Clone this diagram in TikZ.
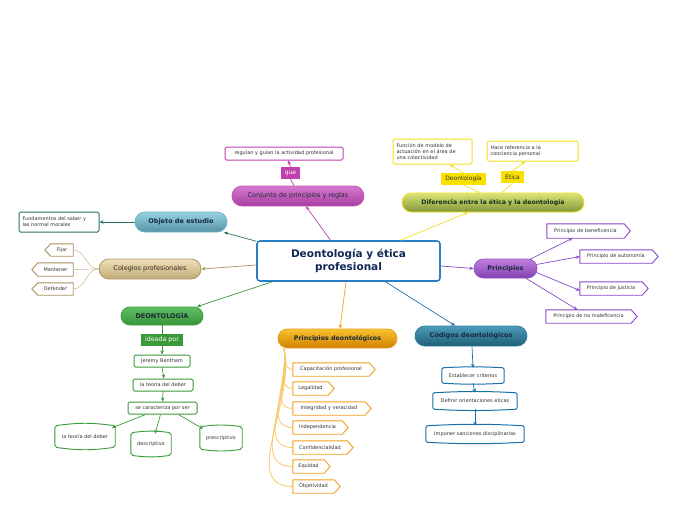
\documentclass[tikz,border=0pt]{standalone}
\usepackage{fontspec}
\setmainfont{DejaVu Sans}
\usetikzlibrary{shapes.misc,arrows.meta}
\definecolor{txtdark}{HTML}{1A2A3A}
\definecolor{txtgray}{HTML}{333333}
\definecolor{cblue}{HTML}{2880C8}
\definecolor{cmag}{HTML}{C040B0}
\definecolor{cyel}{HTML}{F0E020}
\definecolor{cteal}{HTML}{2A7068}
\definecolor{ctan}{HTML}{A89060}
\definecolor{ctanl}{HTML}{D0C098}
\definecolor{cgreen}{HTML}{3A9A3A}
\definecolor{cpur}{HTML}{8848C8}
\definecolor{corg}{HTML}{F0A020}
\definecolor{corgl}{HTML}{F8C868}
\definecolor{ccod}{HTML}{1A70A8}
\begin{document}
\begin{tikzpicture}[x=1pt,y=-1pt,
  pill/.style={rounded rectangle, inner sep=0pt, line width=0.8pt, font=\fontsize{6.5}{7.5}\selectfont, text=txtdark},
  small/.style={font=\fontsize{5}{6}\selectfont, text=txtgray},
  box/.style={small, rectangle, rounded corners=1.5pt, draw, line width=1pt, fill=white, inner sep=0pt, align=left},
  lab/.style={rectangle, inner sep=0pt, font=\fontsize{6}{7}\selectfont},
  pent/.style={small, rectangle, inner sep=0pt},
  arr/.style={-{Stealth[length=4pt,width=3.5pt]}, line width=0.7pt},
  ln/.style={line width=0.7pt}]
\useasboundingbox (0,0) rectangle (696,520);
% central
\node[rectangle, rounded corners=3pt, draw=cblue, line width=1.6pt, fill=white, minimum width=183, minimum height=40, inner sep=0pt, align=center, text={rgb,255:red,16;green,40;blue,84}, font=\fontsize{10.5}{12.5}\selectfont\bfseries] (c) at (348.5,261) {Deontología y ética\\profesional};
% magenta branch
\node[pill, minimum width=132, minimum height=20, top color={rgb,255:red,214;green,120;blue,206}, bottom color={rgb,255:red,168;green,62;blue,160}, draw={rgb,255:red,190;green,90;blue,182}] (conj) at (298,196) {Conjunto de principios y reglas};
\node[box, draw=cmag, minimum width=118, minimum height=13, align=center] (reg) at (284,153.5) {regulan y guian la actividad profesional};
\node[lab, fill=cmag, text=white, minimum width=19, minimum height=12] (que) at (290.5,173) {que};
% yellow branch
\node[pill, font=\fontsize{6.2}{7.5}\selectfont\bfseries, text={rgb,255:red,20;green,50;blue,30}, minimum width=182, minimum height=19, top color={rgb,255:red,222;green,228;blue,120}, bottom color={rgb,255:red,128;green,150;blue,56}, draw=cyel] (dif) at (493,202.5) {Diferencia entre la ética y la deontología};
\node[box, draw=cyel, minimum width=79, minimum height=25, text width=72, inner xsep=3.5pt] (func) at (432.5,151.5) {Función de modelo de\\actuación en el área de\\una colectividad};
\node[box, draw=cyel, minimum width=91, minimum height=20, text width=84, inner xsep=3.5pt] (hace) at (532.5,151) {Hace referencia a la\\conciencia personal};
\node[lab, fill={rgb,255:red,248;green,224;blue,0}, text=txtgray, minimum width=45, minimum height=12] (deoL) at (463.5,179) {Deontología};
\node[lab, fill={rgb,255:red,248;green,224;blue,0}, text=txtgray, minimum width=23, minimum height=12] (etL) at (512.5,177) {Ética};
% teal branch
\node[pill, font=\fontsize{6.5}{7.5}\selectfont\bfseries, minimum width=92, minimum height=20, top color={rgb,255:red,150;green,212;blue,228}, bottom color={rgb,255:red,86;green,146;blue,164}, draw={rgb,255:red,110;green,176;blue,194}] (obj) at (181,222) {Objeto de estudio};
\node[box, draw=cteal, minimum width=80, minimum height=20, text width=73, inner xsep=3.5pt] (fund) at (59,222) {Fundamentos del saber y\\las normal morales};
% tan branch
\node[pill, minimum width=102, minimum height=20, top color={rgb,255:red,238;green,224;blue,184}, bottom color={rgb,255:red,194;green,170;blue,120}, draw={rgb,255:red,176;green,152;blue,104}, text={rgb,255:red,50;green,44;blue,30}] (col) at (150,269) {Colegios profesionales};
\node[pent, minimum width=22, minimum height=12] (fij) at (62,250) {Fijar};
\node[pent, minimum width=35, minimum height=13] (man) at (55.5,269.5) {Mantener};
\node[pent, minimum width=35, minimum height=12] (defe) at (55.5,289) {Defender};
% green branch
\node[pill, font=\fontsize{6.5}{7.5}\selectfont\bfseries, minimum width=82, minimum height=18, top color={rgb,255:red,98;green,190;blue,98}, bottom color={rgb,255:red,56;green,148;blue,56}, draw={rgb,255:red,60;green,160;blue,60}] (deo) at (162,316) {DEONTOLOGÍA};
\node[lab, fill=cgreen, text=white, font=\fontsize{6.3}{7.5}\selectfont, minimum width=42, minimum height=12] (ide) at (162,340) {ideada por};
\node[box, draw=cgreen, minimum width=56, minimum height=12, align=center] (jer) at (162,361) {Jeremy Bentham};
\node[box, draw=cgreen, minimum width=60, minimum height=12, align=center] (teo) at (163,385) {la teoría del deber};
\node[box, draw=cgreen, minimum width=69, minimum height=12, align=center] (car) at (162.5,408) {se caracteriza por ser};
\node[pent, minimum width=60, minimum height=21] (t2) at (85,436.5) {la teoría del deber};
\node[pent, minimum width=40, minimum height=22] (des) at (151,444) {descriptivo};
\node[pent, minimum width=42, minimum height=22] (pre) at (221,438) {prescriptivo};
% purple branch
\node[pill, font=\fontsize{6.5}{7.5}\selectfont\bfseries, minimum width=63, minimum height=19, top color={rgb,255:red,194;green,128;blue,224}, bottom color={rgb,255:red,130;green,64;blue,176}, draw={rgb,255:red,148;green,84;blue,196}] (prin) at (505.5,268.5) {Principios};
\node[pent, minimum width=77, minimum height=14] (pb) at (585.5,231) {Principio de beneficencia};
\node[pent, minimum width=72, minimum height=13] (pa) at (616,256.5) {Principio de autonomía};
\node[pent, minimum width=62, minimum height=13] (pj) at (611,288.5) {Principio de justicia};
\node[pent, minimum width=85, minimum height=13] (pn) at (588.5,316.5) {Principio de no maleficencia};
% orange branch
\node[pill, font=\fontsize{6.3}{7.5}\selectfont\bfseries, minimum width=119, minimum height=19, top color={rgb,255:red,250;green,194;blue,48}, bottom color={rgb,255:red,206;green,128;blue,0}, draw={rgb,255:red,226;green,160;blue,32}] (pdeo) at (337.5,338.5) {Principios deontológicos};
\node[pent, minimum width=76, minimum height=13] (o1) at (331,369.5) {Capacitación profesional};
\node[pent, minimum width=35, minimum height=13] (o2) at (310.5,388.5) {Legalidad};
\node[pent, minimum width=72, minimum height=13] (o3) at (329,408.5) {Integridad y veracidad};
\node[pent, minimum width=49, minimum height=13] (o4) at (317.5,427.5) {Independencia};
\node[pent, minimum width=54, minimum height=13] (o5) at (320,447.5) {Confidencialidad};
\node[pent, minimum width=31, minimum height=13] (o6) at (308.5,466.5) {Equidad};
\node[pent, minimum width=41, minimum height=13] (o7) at (313.5,486.5) {Objetividad};
% codigos branch
\node[pill, font=\fontsize{6.5}{7.5}\selectfont\bfseries, minimum width=112, minimum height=20, top color={rgb,255:red,76;green,156;blue,186}, bottom color={rgb,255:red,30;green,94;blue,118}, draw={rgb,255:red,50;green,128;blue,160}] (cod) at (471,336) {Códigos deontológicos};
\node[pent, minimum width=62, minimum height=15] (est) at (473,375.5) {Establecer criterios};
\node[pent, minimum width=84, minimum height=16] (dfn) at (475,401) {Definir orientaciones eticas};
\node[pent, minimum width=98, minimum height=16] (imp) at (475,434) {Imponer sanciones disciplinarias};

% outlines: right-pointing pentagons
\foreach \n in {pb,pa,pj,pn}
  \draw[cpur, line width=0.9pt, line join=round] (\n.north west) -- (\n.north east) -- ([xshift=6pt]\n.east) -- (\n.south east) -- (\n.south west) -- cycle;
\foreach \n in {o1,o2,o3,o4,o5,o6,o7}
  \draw[corg, line width=0.9pt, line join=round] (\n.north west) -- (\n.north east) -- ([xshift=6pt]\n.east) -- (\n.south east) -- (\n.south west) -- cycle;
\foreach \n in {fij,man,defe}
  \draw[ctan, line width=0.9pt, line join=round] (\n.north east) -- (\n.north west) -- ([xshift=-6pt]\n.west) -- (\n.south west) -- (\n.south east) -- cycle;
% barrels
\foreach \n in {t2,des,pre}
  \draw[cgreen, line width=0.9pt, rounded corners=2pt] (\n.north west) to[bend left=8] (\n.north east) -- (\n.south east) to[bend left=8] (\n.south west) -- cycle;
\foreach \n in {est,dfn,imp}
  \draw[ccod, line width=1pt, rounded corners=2pt] (\n.north west) to[bend left=3] (\n.north east) -- (\n.south east) to[bend left=3] (\n.south west) -- cycle;

% connectors
\draw[arr, cmag] ([xshift=-18pt]c.north) -- ([xshift=8pt]conj.south);
\draw[ln, cmag] ([xshift=-4pt]conj.north) -- (que.south);
\draw[arr, cmag] (que.north) -- ([xshift=4pt]reg.south);
\draw[arr, cyel] ([xshift=52pt]c.north) -- ([xshift=-25pt]dif.south);
\draw[ln, cyel] ([xshift=-13pt]dif.north) -- (deoL.south);
\draw[arr, cyel] (deoL.north) -- ([xshift=17pt]func.south);
\draw[ln, cyel] ([xshift=9pt]dif.north) -- (etL.south);
\draw[arr, cyel] (etL.north) -- ([xshift=-7pt]hace.south);
\draw[arr, cteal] ([yshift=-1pt]c.north west) -- ([xshift=43pt]obj.south);
\draw[arr, cteal] (obj.west) -- (fund.east);
\draw[arr, ctan] ([yshift=-4pt]c.west) -- (col.east);
\foreach \n in {fij,man,defe}
  \draw[ctanl, line width=0.6pt] (col.west) to[out=180,in=0] (\n.east);
\draw[arr, cgreen] ([xshift=16pt]c.south west) -- ([xshift=35pt]deo.north);
\draw[ln, cgreen] (deo.south) -- (ide.north);
\draw[arr, cgreen] (ide.south) -- (jer.north);
\draw[arr, cgreen] (jer.south) -- ([xshift=1pt]teo.north);
\draw[arr, cgreen] (teo.south) -- (car.north);
\draw[arr, cgreen] ([xshift=-17pt]car.south) -- ([xshift=27pt,yshift=-2pt]t2.north);
\draw[arr, cgreen] ([xshift=-2pt]car.south) -- ([xshift=4pt,yshift=-1pt]des.north);
\draw[arr, cgreen] ([xshift=16pt]car.south) -- ([xshift=-18pt,yshift=-2pt]pre.north);
\draw[arr, cpur] ([yshift=-5pt]c.east) -- (prin.west);
\draw[arr, cpur] ([shift={(24,-9)}]prin.center) -- ([xshift=-13pt]pb.south);
\draw[arr, cpur] ([shift={(31,-4)}]prin.center) -- (pa.west);
\draw[arr, cpur] ([shift={(31,4)}]prin.center) -- ([yshift=-2pt]pj.west);
\draw[arr, cpur] ([shift={(20,9.5)}]prin.center) -- ([xshift=-11pt]pn.north);
\draw[arr, corg] ([xshift=-2.5pt]c.south) -- ([xshift=2.5pt]pdeo.north);
\foreach \n in {o1,o2,o3,o4,o5,o6,o7}
  \draw[corgl, line width=0.8pt] ([shift={(-54,8)}]pdeo.center) to[out=-75,in=180] (\n.west);
\draw[arr, ccod] ([xshift=37pt]c.south) -- ([xshift=-16pt]cod.north);
\draw[arr, ccod] ([xshift=1pt]cod.south) -- (est.north);
\draw[arr, ccod] (est.south) -- (dfn.north);
\draw[arr, ccod] (dfn.south) -- (imp.north);
\end{tikzpicture}
\end{document}
